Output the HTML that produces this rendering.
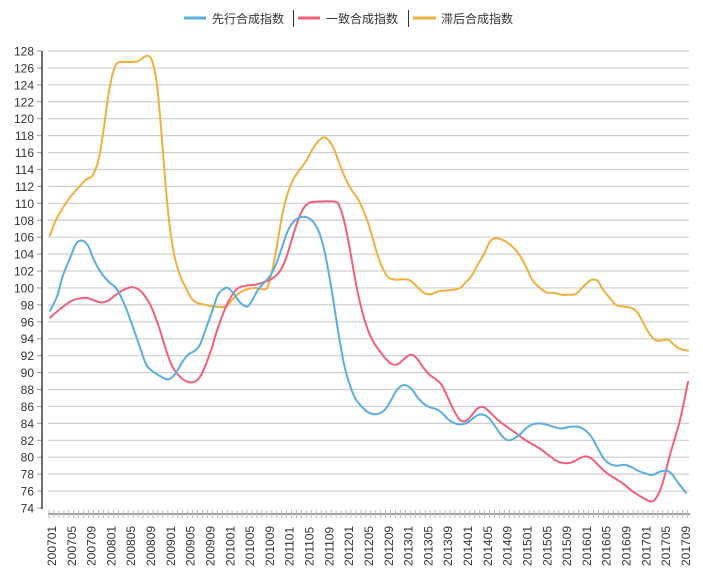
<!DOCTYPE html>
<html><head><meta charset="utf-8"><style>
html,body{margin:0;padding:0;background:#fff;}
svg{display:block;font-family:"Liberation Sans","Noto Sans CJK SC",sans-serif;}
</style></head><body>
<svg id="s" width="703" height="584" xmlns="http://www.w3.org/2000/svg">
<g id="grid"></g>
<g id="lines" fill="none" stroke-width="2" stroke-linejoin="round" stroke-linecap="round"></g>
<g font-size="12" fill="#333">
<line x1="184" y1="18" x2="206" y2="18" stroke="#5aaee0" stroke-width="3"/>
<text x="212" y="23">先行合成指数</text>
<line x1="293.5" y1="10" x2="293.5" y2="27" stroke="#333"/>
<line x1="298" y1="18" x2="320" y2="18" stroke="#f0607a" stroke-width="3"/>
<text x="326" y="23">一致合成指数</text>
<line x1="408.5" y1="10" x2="408.5" y2="27" stroke="#333"/>
<line x1="413" y1="18" x2="436" y2="18" stroke="#f0b040" stroke-width="3"/>
<text x="441" y="23">滞后合成指数</text>
</g>
</svg>
<script>
var NS="http://www.w3.org/2000/svg";
function el(t,a,p,txt){var e=document.createElementNS(NS,t);for(var k in a)e.setAttribute(k,a[k]);if(txt!==undefined)e.textContent=txt;p.appendChild(e);return e;}
var g=document.getElementById('grid');
function Y(v){return 508-(v-74)*8.463;}
for(var v=74;v<=128;v+=2){var y=Y(v);
 if(v>74)el('line',{x1:48,x2:689,y1:y,y2:y,stroke:'#cfcfcf','stroke-width':1.2},g);
 el('line',{x1:37,x2:42,y1:y,y2:y,stroke:'#999'},g);
 el('text',{x:34,y:y+4.5,'text-anchor':'end','font-size':12,fill:'#333'},g,''+v);}
el('line',{x1:42,x2:42,y1:51,y2:509,stroke:'#222','stroke-width':1.3},g);
el('line',{x1:48,x2:690,y1:514,y2:514,stroke:'#666','stroke-width':1.3},g);
for(var m=0;m<=129;m++){var x=49+m*4.95;el('line',{x1:x,x2:x,y1:510,y2:518,stroke:'#bbb'},g);}
var labs=[];for(var yr=2007;yr<=2017;yr++)for(var mm=1;mm<=12;mm+=4)labs.push(yr+(mm<10?'0':'')+mm);
labs.forEach(function(l,i){var x=52+i*19.81+4;
 el('text',{x:0,y:0,transform:'translate('+x+',566) rotate(-90)','font-size':12,fill:'#333'},g,l);});
var blue=[[50,97.3],[57,99],[63,101.5],[70,103.5],[76,105.2],[82,105.6],[88,105],[94,103.3],[100,102],[108,100.8],[116,100],[122,98.7],[128,97],[134,95],[140,93],[146,91],[152,90.2],[160,89.6],[168,89.2],[175,89.8],[182,91.2],[188,92.1],[195,92.6],[200,93.3],[206,95.2],[212,97.2],[218,99.2],[224,99.9],[228,100],[234,99.3],[240,98.3],[247,97.8],[252,98.5],[258,99.8],[264,100.6],[270,101.4],[276,102.8],[282,104.8],[288,106.8],[295,108],[302,108.4],[308,108.3],[314,107.7],[320,106.3],[326,103.5],[332,99.5],[338,95],[344,91],[350,88.5],[356,86.8],[364,85.7],[370,85.2],[377,85.1],[384,85.5],[390,86.5],[396,87.8],[401,88.4],[406,88.5],[412,88],[418,87],[424,86.3],[430,85.9],[438,85.6],[444,85],[450,84.3],[458,83.9],[466,84],[472,84.5],[478,85],[484,85],[490,84.5],[496,83.5],[502,82.5],[508,82],[514,82.2],[520,82.7],[526,83.4],[533,83.9],[540,84],[548,83.8],[556,83.5],[562,83.4],[570,83.6],[578,83.6],[585,83.2],[592,82.3],[598,81],[604,79.8],[610,79.2],[617,79],[625,79.1],[632,78.8],[638,78.4],[645,78.1],[652,77.9],[660,78.3],[667,78.4],[672,78],[678,77],[686,75.8]];
var red=[[50,96.5],[60,97.5],[72,98.5],[82,98.8],[88,98.8],[100,98.3],[108,98.5],[116,99.2],[124,99.8],[132,100.1],[140,99.7],[148,98.5],[154,97],[160,95],[166,92.7],[172,90.8],[180,89.5],[188,88.9],[194,88.9],[200,89.5],[206,91],[212,93],[218,95.3],[226,97.8],[234,99.5],[240,100.1],[248,100.3],[256,100.4],[264,100.7],[272,101.1],[280,102],[286,103.5],[292,105.8],[298,108],[304,109.5],[310,110.1],[317,110.2],[335,110.2],[340,109.5],[345,107.5],[350,104.5],[356,100.5],[362,97.3],[368,95],[374,93.5],[380,92.5],[386,91.6],[392,91],[398,91],[404,91.6],[410,92.1],[414,92],[418,91.5],[424,90.5],[430,89.7],[436,89.2],[442,88.5],[448,87],[454,85.5],[460,84.4],[466,84.3],[472,85],[478,85.8],[484,85.9],[490,85.3],[496,84.6],[502,84],[508,83.5],[514,83],[522,82.3],[530,81.7],[540,81],[548,80.3],[556,79.6],[564,79.3],[572,79.4],[580,79.9],[586,80.1],[592,79.8],[598,79.1],[606,78.2],[615,77.5],[624,76.8],[632,76],[640,75.4],[646,75],[650,74.8],[655,75],[662,76.7],[670,80.3],[680,84.4],[688,88.9]];
var org=[[50,106.2],[55,107.8],[62,109.3],[70,110.7],[78,111.8],[86,112.8],[92,113.2],[97,114.5],[100,116],[104,119],[108,122.5],[112,125],[116,126.4],[121,126.7],[130,126.7],[138,126.8],[144,127.3],[149,127.4],[153,126.5],[157,124],[161,119],[165,113],[169,108],[174,104],[180,101.5],[186,100],[192,98.7],[198,98.2],[206,98],[214,97.8],[226,97.8],[232,98.6],[238,99.3],[246,99.8],[254,100],[260,99.9],[267,100],[272,102],[277,105],[282,108.5],[288,111.3],[294,113],[300,114],[306,115],[312,116.3],[318,117.3],[324,117.8],[329,117.4],[334,116.4],[340,114.5],[346,112.8],[352,111.5],[358,110.5],[364,109],[370,107],[376,104.5],[382,102.5],[388,101.3],[394,101],[400,101],[408,101],[414,100.5],[420,99.8],[426,99.3],[432,99.3],[438,99.6],[446,99.7],[454,99.8],[460,100],[466,100.7],[472,101.5],[478,102.8],[484,104],[490,105.5],[496,105.9],[502,105.7],[508,105.3],[514,104.7],[520,103.8],[526,102.5],[532,101],[538,100.2],[546,99.5],[554,99.4],[562,99.2],[570,99.2],[576,99.3],[582,100],[588,100.7],[593,101],[598,100.8],[603,99.8],[610,98.8],[616,98],[624,97.8],[632,97.6],[638,97],[644,95.7],[650,94.5],[656,93.8],[662,93.8],[668,93.9],[674,93.3],[680,92.8],[688,92.6]];
var L=document.getElementById('lines');
function path(d,c){var p=d.map(function(q){return[q[0],Y(q[1])];});var s='M'+p[0][0]+','+p[0][1];
 for(var i=0;i<p.length-1;i++){var p0=p[i-1]||p[i],p1=p[i],p2=p[i+1],p3=p[i+2]||p2;
  s+=' C'+(p1[0]+(p2[0]-p0[0])/6)+','+(p1[1]+(p2[1]-p0[1])/6)+' '+(p2[0]-(p3[0]-p1[0])/6)+','+(p2[1]-(p3[1]-p1[1])/6)+' '+p2[0]+','+p2[1];}
 el('path',{d:s,stroke:c},L);}
path(org,'#f0b040');path(red,'#f0607a');path(blue,'#5aaee0');
</script>
</body></html>
